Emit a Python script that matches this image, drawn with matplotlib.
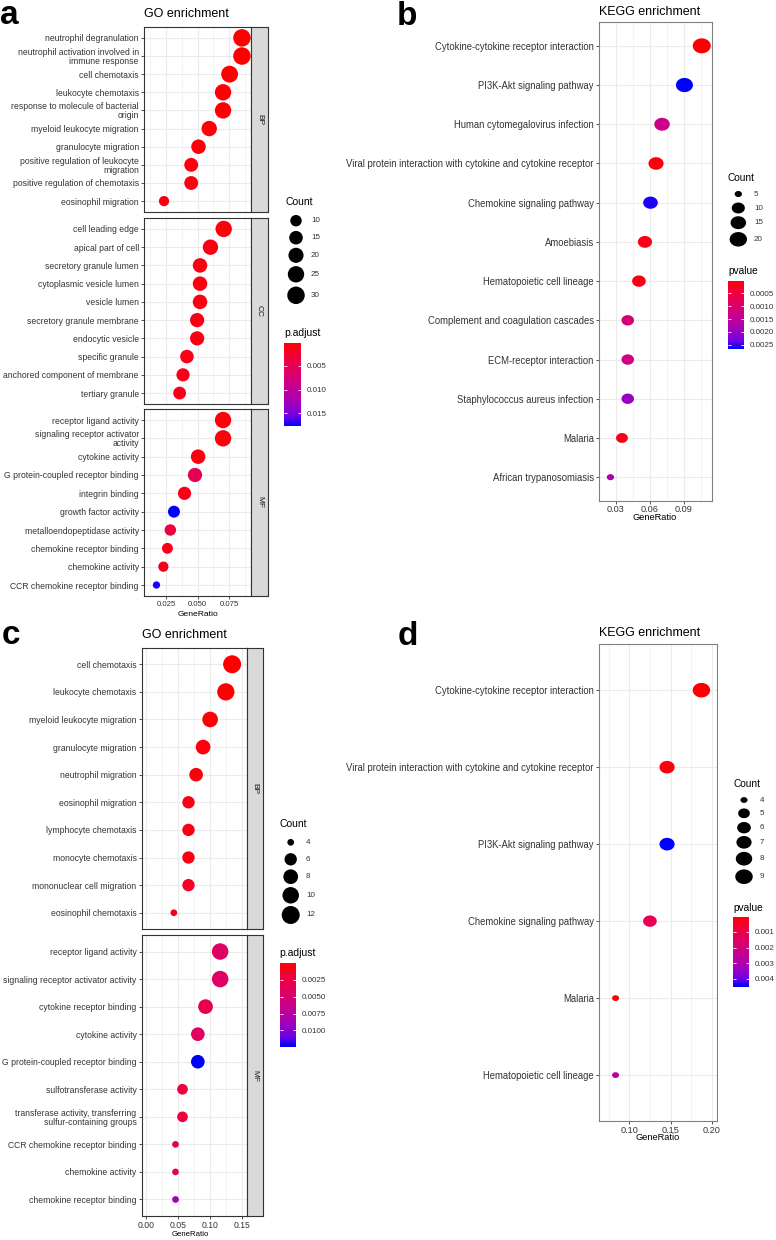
import numpy as np
import matplotlib.pyplot as plt
import matplotlib.cm as cm
from matplotlib.colors import LinearSegmentedColormap, Normalize
from matplotlib.path import Path

plt.rcParams['font.family'] = ['Liberation Sans', 'DejaVu Sans']

# ---- panel a : GO enrichment ----
a_bp_terms = ['neutrophil degranulation', 'neutrophil activation involved in\nimmune response',
              'cell chemotaxis', 'leukocyte chemotaxis', 'response to molecule of bacterial\norigin',
              'myeloid leukocyte migration', 'granulocyte migration',
              'positive regulation of leukocyte\nmigration', 'positive regulation of chemotaxis',
              'eosinophil migration']
a_bp_ratio = [0.0853, 0.0853, 0.0755, 0.0703, 0.0703, 0.0593, 0.0508, 0.0450, 0.0450, 0.0234]
a_bp_count = [30, 30, 27, 25, 25, 21, 18, 16, 16, 8]
a_bp_padj = [0.0002, 0.0002, 0.0003, 0.0004, 0.0004, 0.0005, 0.0007, 0.0009, 0.0009, 0.0012]

a_cc_terms = ['cell leading edge', 'apical part of cell', 'secretory granule lumen',
              'cytoplasmic vesicle lumen', 'vesicle lumen', 'secretory granule membrane',
              'endocytic vesicle', 'specific granule', 'anchored component of membrane',
              'tertiary granule']
a_cc_ratio = [0.0708, 0.0603, 0.0520, 0.0520, 0.0520, 0.0497, 0.0497, 0.0416, 0.0385, 0.0358]
a_cc_count = [25, 21, 18, 18, 18, 17, 17, 15, 14, 13]
a_cc_padj = [0.0008, 0.0010, 0.0010, 0.0010, 0.0010, 0.0011, 0.0011, 0.0012, 0.0012, 0.0013]

a_mf_terms = ['receptor ligand activity', 'signaling receptor activator\nactivity', 'cytokine activity',
              'G protein-coupled receptor binding', 'integrin binding', 'growth factor activity',
              'metalloendopeptidase activity', 'chemokine receptor binding', 'chemokine activity',
              'CCR chemokine receptor binding']
a_mf_ratio = [0.0703, 0.0703, 0.0505, 0.0480, 0.0397, 0.0313, 0.0284, 0.0261, 0.0229, 0.0174]
a_mf_count = [25, 25, 18, 17, 14, 11, 10, 9, 8, 6]
a_mf_padj = [0.0008, 0.0008, 0.0010, 0.0050, 0.0012, 0.0177, 0.0034, 0.0014, 0.0014, 0.0172]

# ---- panel b : KEGG enrichment ----
b_terms = ['Cytokine-cytokine receptor interaction', 'PI3K-Akt signaling pathway',
           'Human cytomegalovirus infection',
           'Viral protein interaction with cytokine and cytokine receptor',
           'Chemokine signaling pathway', 'Amoebiasis', 'Hematopoietic cell lineage',
           'Complement and coagulation cascades', 'ECM-receptor interaction',
           'Staphylococcus aureus infection', 'Malaria', 'African trypanosomiasis']
b_ratio = [0.1058, 0.0905, 0.0707, 0.0654, 0.0605, 0.0556, 0.0503, 0.0404, 0.0404, 0.0404, 0.0353, 0.0251]
b_count = [22, 19, 15, 14, 13, 12, 11, 9, 9, 9, 8, 5]
b_pval = [0.00001, 0.00266, 0.00130, 0.00010, 0.00258, 0.00020, 0.00018,
          0.00112, 0.00122, 0.00200, 0.00015, 0.00180]

# ---- panel c : GO enrichment ----
c_bp_terms = ['cell chemotaxis', 'leukocyte chemotaxis', 'myeloid leukocyte migration',
              'granulocyte migration', 'neutrophil migration', 'eosinophil migration',
              'lymphocyte chemotaxis', 'monocyte chemotaxis', 'mononuclear cell migration',
              'eosinophil chemotaxis']
c_bp_ratio = [0.1346, 0.1247, 0.1000, 0.0890, 0.0780, 0.0660, 0.0660, 0.0660, 0.0660, 0.0430]
c_bp_count = [12, 11, 9, 8, 7, 6, 6, 6, 6, 4]
c_bp_padj = [0.0001, 0.0001, 0.0002, 0.0004, 0.0005, 0.0006, 0.0006, 0.0007, 0.0013, 0.0009]

c_mf_terms = ['receptor ligand activity', 'signaling receptor activator activity',
              'cytokine receptor binding', 'cytokine activity', 'G protein-coupled receptor binding',
              'sulfotransferase activity', 'transferase activity, transferring\nsulfur-containing groups',
              'CCR chemokine receptor binding', 'chemokine activity', 'chemokine receptor binding']
c_mf_ratio = [0.1158, 0.1158, 0.0928, 0.0807, 0.0807, 0.0566, 0.0566, 0.0456, 0.0456, 0.0456]
c_mf_count = [10, 10, 8, 7, 7, 5, 5, 4, 4, 4]
c_mf_padj = [0.0042, 0.0042, 0.0030, 0.0040, 0.0124, 0.0022, 0.0022, 0.0032, 0.0036, 0.0088]

# ---- panel d : KEGG enrichment ----
d_terms = ['Cytokine-cytokine receptor interaction',
           'Viral protein interaction with cytokine and cytokine receptor',
           'PI3K-Akt signaling pathway', 'Chemokine signaling pathway', 'Malaria',
           'Hematopoietic cell lineage']
d_ratio = [0.1875, 0.1458, 0.1458, 0.1250, 0.0833, 0.0833]
d_count = [9, 7, 7, 6, 4, 4]
d_pval = [0.00003, 0.00020, 0.00450, 0.00120, 0.00025, 0.00270]

W, H = 776, 1240
fig = plt.figure(figsize=(W / 100, H / 100), dpi=100)

# red -> blue gradient as ggplot does it (interpolated in Lab)
cmap = LinearSegmentedColormap.from_list('rb', ['#FF0000', '#F40031', '#E8004F', '#DA006C', '#CA0089',
                                                '#B500A5', '#9A00C3', '#7300E0', '#0000FF'])

t = np.linspace(0, 2 * np.pi, 64)
oval = Path(np.column_stack([1.2 * np.cos(t), np.sin(t)]), closed=True)

TXT = '#333333'


def px_axes(x0, y0, x1, y1):
    return fig.add_axes([x0 / W, 1 - y1 / H, (x1 - x0) / W, (y1 - y0) / H])


def dot_area(count, cmin, cmax, dmin, dmax):
    c = np.asarray(count, dtype=float)
    d = dmin + (dmax - dmin) * np.sqrt((c - cmin) / (cmax - cmin))
    return (d * 0.72) ** 2


def facet(box, terms, ratio, count, pval, norm, sizes, marker, xlim, major, minor,
          xlabels=None, border='#333333', fs=6.2, xfs=5.6):
    ax = px_axes(*box)
    n = len(terms)
    ypos = np.arange(n)[::-1]
    ax.scatter(ratio, ypos, s=dot_area(count, *sizes), c=pval, cmap=cmap, norm=norm,
               marker=marker, linewidths=0, zorder=3)
    ax.set_xlim(*xlim)
    ax.set_ylim(-0.6, n - 0.4)
    ax.set_yticks(ypos)
    ax.set_yticklabels(terms, fontsize=fs, color=TXT, linespacing=1.0)
    ax.set_xticks(major)
    ax.set_xticks(minor, minor=True)
    ax.grid(which='major', color='#EBEBEB', lw=0.8)
    ax.grid(which='minor', axis='x', color='#EBEBEB', lw=0.4)
    ax.set_axisbelow(True)
    for sp in ax.spines.values():
        sp.set_color(border)
        sp.set_linewidth(0.8)
    ax.tick_params(axis='y', length=2.2, width=0.6, color='#333333', pad=1.5)
    ax.tick_params(axis='x', which='minor', length=0)
    if xlabels is None:
        ax.tick_params(axis='x', which='major', length=0, labelbottom=False)
    else:
        ax.set_xticklabels(xlabels)
        ax.tick_params(axis='x', which='major', length=2.2, width=0.6, color='#333333',
                       labelsize=xfs, labelcolor=TXT, pad=1.2)
    return ax


def strip(box, label):
    s = px_axes(*box)
    s.set_facecolor('#D9D9D9')
    s.set_xticks([])
    s.set_yticks([])
    for sp in s.spines.values():
        sp.set_color('#333333')
        sp.set_linewidth(0.8)
    s.text(0.5, 0.5, label, rotation=270, ha='center', va='center', fontsize=6,
           color='#1A1A1A', transform=s.transAxes)


def colorbar(box, norm, ticks, labels):
    cax = px_axes(*box)
    cb = fig.colorbar(cm.ScalarMappable(norm=norm, cmap=cmap), cax=cax)
    cb.outline.set_visible(False)
    cax.invert_yaxis()
    cb.set_ticks(ticks)
    cb.set_ticklabels(labels)
    cax.tick_params(direction='in', length=2.5, width=0.6, color='white', left=True, right=True,
                    labelsize=5.8, labelcolor=TXT, pad=4)


ov = fig.add_axes([0, 0, 1, 1])
ov.set_xlim(0, W)
ov.set_ylim(H, 0)
ov.axis('off')
ov.set_zorder(5)

# ================= a =================
norm_a = Normalize(0.0002, 0.0177)
size_a = (6, 30, 7.3, 17.5)
xa = (0.0075, 0.0925)
maj_a = [0.025, 0.050, 0.075]
min_a = [0.0125, 0.0375, 0.0625, 0.0875]
facet((144, 27, 251, 212), a_bp_terms, a_bp_ratio, a_bp_count, a_bp_padj, norm_a, size_a, 'o', xa, maj_a, min_a)
facet((144, 218, 251, 404), a_cc_terms, a_cc_ratio, a_cc_count, a_cc_padj, norm_a, size_a, 'o', xa, maj_a, min_a)
facet((144, 409, 251, 596), a_mf_terms, a_mf_ratio, a_mf_count, a_mf_padj, norm_a, size_a, 'o', xa, maj_a, min_a,
      xlabels=['0.025', '0.050', '0.075'])
strip((251, 27, 268, 212), 'BP')
strip((251, 218, 268, 404), 'CC')
strip((251, 409, 268, 596), 'MF')
ov.text(144, 14, 'GO enrichment', fontsize=9, ha='left', va='center', color='black')
ov.text(198, 615, 'GeneRatio', fontsize=6.1, ha='center', va='center', color='black')

cnt_a = [10, 15, 20, 25, 30]
ov.text(285, 202, 'Count', fontsize=7.5, ha='left', va='center', color='black')
ov.scatter([296] * 5, [220.7, 237.7, 255.3, 274.3, 295.3], s=dot_area(cnt_a, *size_a), c='black', linewidths=0)
for v, yy in zip(cnt_a, [220.7, 237.7, 255.3, 274.3, 295.3]):
    ov.text(311, yy, str(v), fontsize=5.8, ha='left', va='center', color=TXT)
ov.text(284, 333, 'p.adjust', fontsize=7.5, ha='left', va='center', color='black')
colorbar((284.3, 343.3, 301, 426), norm_a, [0.005, 0.010, 0.015], ['0.005', '0.010', '0.015'])

# ================= b =================
norm_b = Normalize(0.00001, 0.00266)
size_b = (5, 22, 7.3, 18)
facet((599, 22.3, 711.7, 500.7), b_terms, b_ratio, b_count, b_pval, norm_b, size_b, oval,
      (0.0157, 0.1146), [0.03, 0.06, 0.09], [0.015, 0.045, 0.075, 0.105],
      xlabels=['0.03', '0.06', '0.09'], border='#808080', fs=6.85, xfs=6.6)
ov.text(599, 12, 'KEGG enrichment', fontsize=9, ha='left', va='center', color='black')
ov.text(655, 518, 'GeneRatio', fontsize=6.7, ha='center', va='center', color='black')

cnt_b = [5, 10, 15, 20]
yb = [194, 208, 222.7, 239.3]
ov.text(728, 178, 'Count', fontsize=7.3, ha='left', va='center', color='black')
ov.scatter([738.3] * 4, yb, s=dot_area(cnt_b, *size_b), c='black', marker=oval, linewidths=0)
for v, yy in zip(cnt_b, yb):
    ov.text(754, yy, str(v), fontsize=5.8, ha='left', va='center', color=TXT)
ov.text(728, 271, 'pvalue', fontsize=7.3, ha='left', va='center', color='black')
colorbar((727.7, 280.7, 744.3, 349), norm_b, [0.0005, 0.0010, 0.0015, 0.0020, 0.0025],
         ['0.0005', '0.0010', '0.0015', '0.0020', '0.0025'])

# ================= c =================
norm_c = Normalize(0.00005, 0.0124)
size_c = (4, 12, 6.7, 18)
xc = (-0.0075, 0.1575)
maj_c = [0.0, 0.05, 0.10, 0.15]
min_c = [0.025, 0.075, 0.125]
facet((141.7, 647.7, 246.7, 929.3), c_bp_terms, c_bp_ratio, c_bp_count, c_bp_padj, norm_c, size_c, 'o',
      xc, maj_c, min_c)
facet((141.7, 935, 246.7, 1216), c_mf_terms, c_mf_ratio, c_mf_count, c_mf_padj, norm_c, size_c, 'o',
      xc, maj_c, min_c, xlabels=['0.00', '0.05', '0.10', '0.15'], xfs=6.2)
strip((246.7, 647.7, 263.3, 929.3), 'BP')
strip((246.7, 935, 263.3, 1216), 'MF')
ov.text(141.7, 635, 'GO enrichment', fontsize=9, ha='left', va='center', color='black')
ov.text(190, 1235, 'GeneRatio', fontsize=5.6, ha='center', va='center', color='black')

cnt_c = [4, 6, 8, 10, 12]
yc = [842.3, 859.3, 876.7, 895.3, 915]
ov.text(279, 824, 'Count', fontsize=7.5, ha='left', va='center', color='black')
ov.scatter([290.7] * 5, yc, s=dot_area(cnt_c, *size_c), c='black', linewidths=0)
for v, yy in zip(cnt_c, yc):
    ov.text(306, yy, str(v), fontsize=5.8, ha='left', va='center', color=TXT)
ov.text(279, 953, 'p.adjust', fontsize=7.5, ha='left', va='center', color='black')
colorbar((280, 963.3, 296, 1046.7), norm_c, [0.0025, 0.0050, 0.0075, 0.0100],
         ['0.0025', '0.0050', '0.0075', '0.0100'])

# ================= d =================
norm_d = Normalize(0.00003, 0.0045)
size_d = (4, 9, 7.0, 17.5)
facet((599, 644, 717, 1121.3), d_terms, d_ratio, d_count, d_pval, norm_d, size_d, oval,
      (0.0632, 0.2064), [0.10, 0.15, 0.20], [0.075, 0.125, 0.175],
      xlabels=['0.10', '0.15', '0.20'], border='#808080', fs=6.85, xfs=6.6)
ov.text(599, 633, 'KEGG enrichment', fontsize=9, ha='left', va='center', color='black')
ov.text(658, 1138, 'GeneRatio', fontsize=6.7, ha='center', va='center', color='black')

cnt_d = [4, 5, 6, 7, 8, 9]
yd = [800, 813.3, 827.7, 842.3, 858.7, 876.7]
ov.text(733, 784, 'Count', fontsize=7.3, ha='left', va='center', color='black')
ov.scatter([744] * 6, yd, s=dot_area(cnt_d, *size_d), c='black', marker=oval, linewidths=0)
for v, yy in zip(cnt_d, yd):
    ov.text(760, yy, str(v), fontsize=5.8, ha='left', va='center', color=TXT)
ov.text(733, 908, 'pvalue', fontsize=7.3, ha='left', va='center', color='black')
colorbar((732.7, 916.7, 749.3, 986.7), norm_d, [0.001, 0.002, 0.003, 0.004],
         ['0.001', '0.002', '0.003', '0.004'])

# panel letters
for letter, x, y in [('a', 0, 24), ('b', 397, 25), ('c', 2, 644), ('d', 398, 645)]:
    ov.text(x, y, letter, fontsize=24, fontweight='bold', ha='left', va='baseline', color='black')

fig.savefig('out.png', dpi=100)
